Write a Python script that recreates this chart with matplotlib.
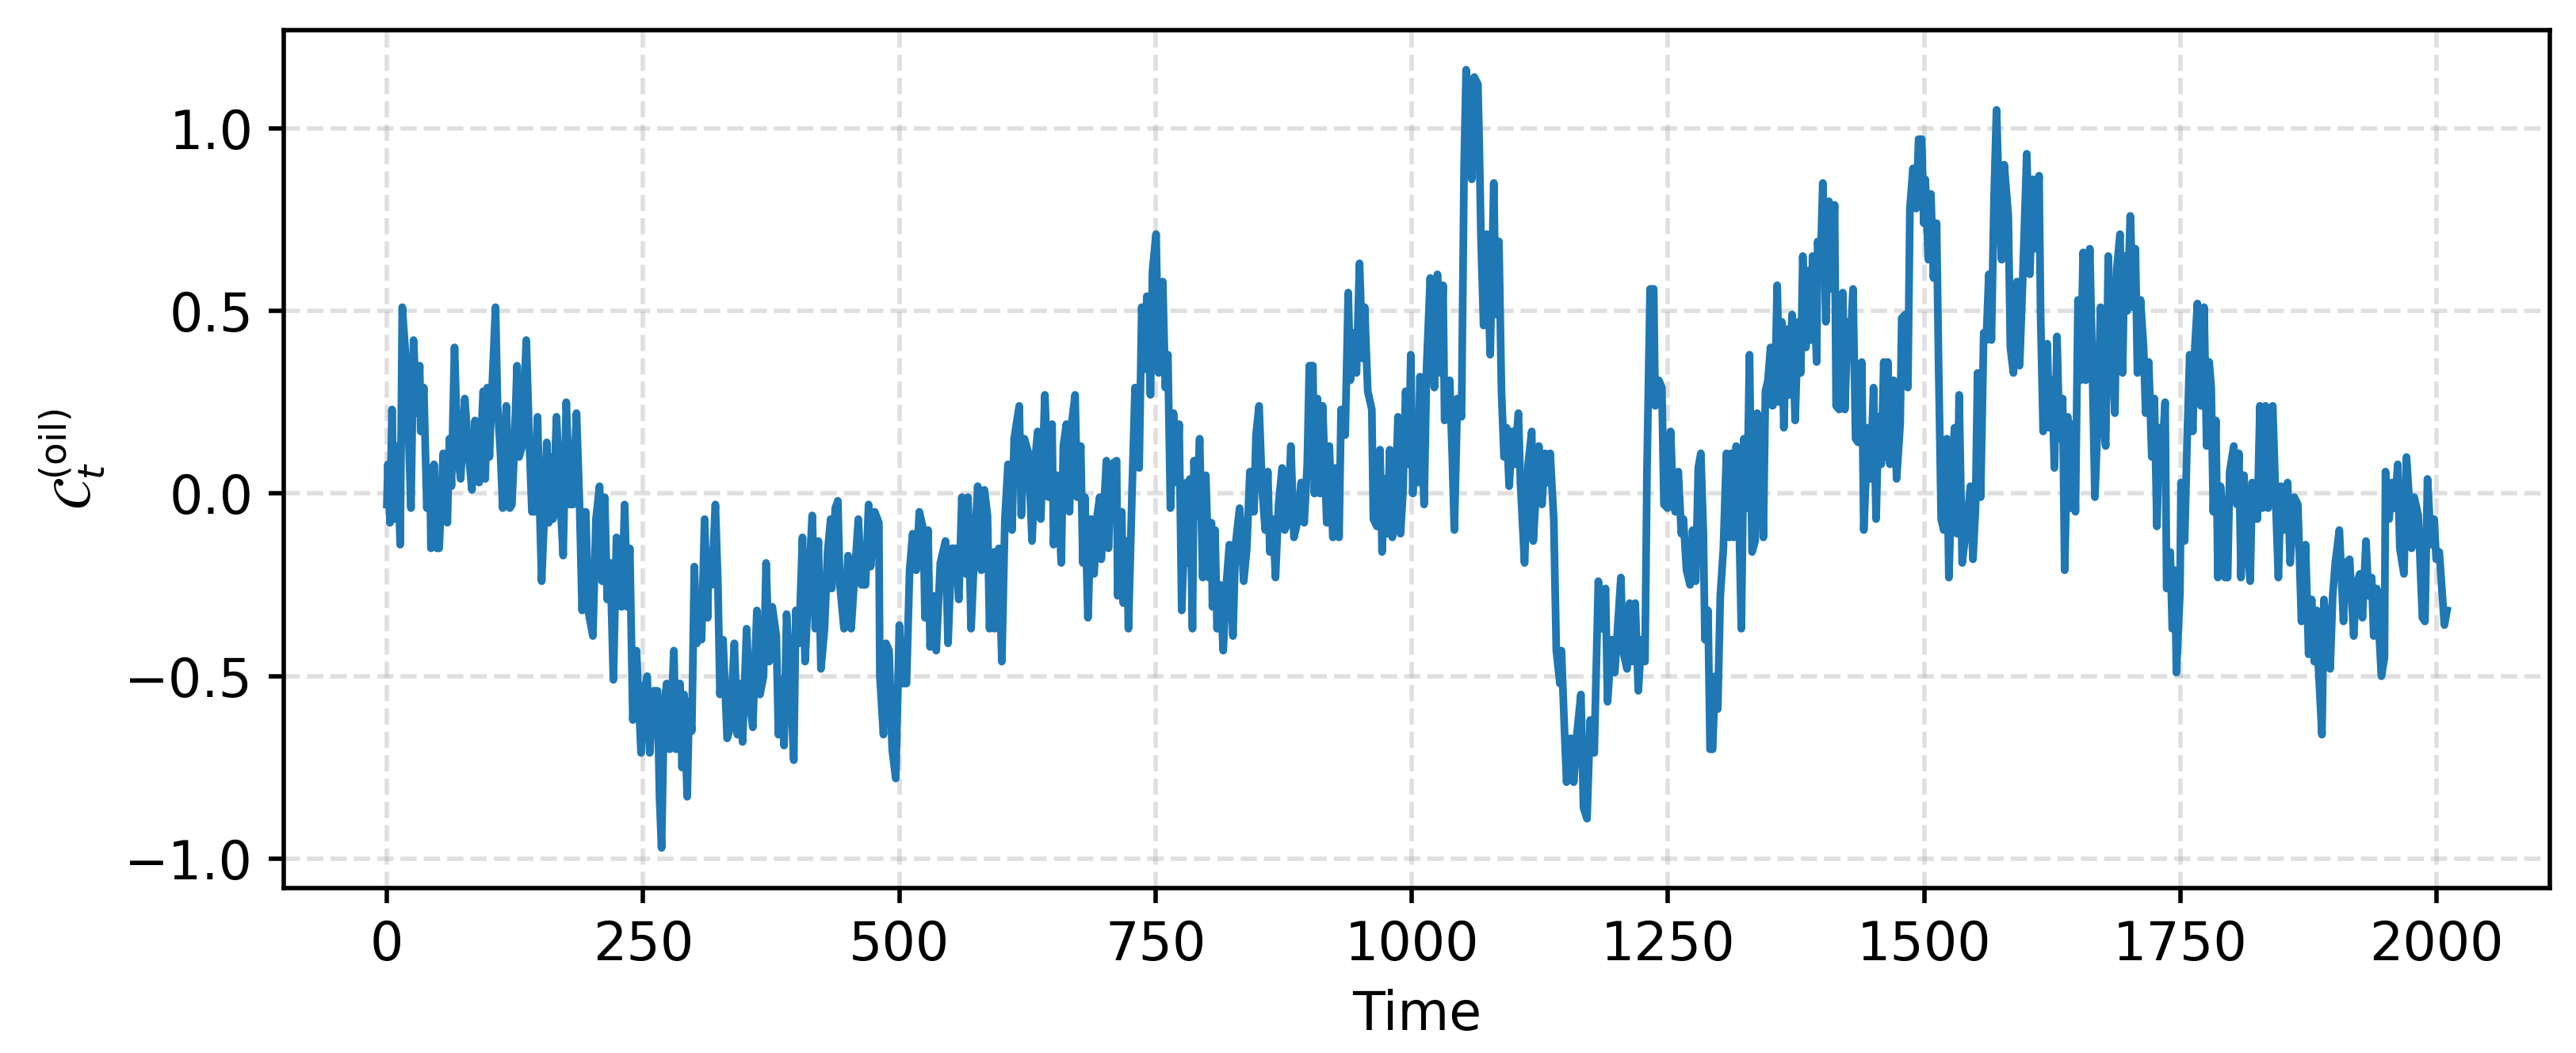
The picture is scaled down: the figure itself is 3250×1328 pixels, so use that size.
import numpy as np
import matplotlib
matplotlib.use("Agg")
import matplotlib.pyplot as plt

# ---- data (time, value), in chunks ----
tA = [0,1,3,5,7,10,13,15,19,23.5,26,29,32,33,36,39,42,43,46,49,51,55,59,61,63,66,69,72,76,80,83,86,90,94,96,98,100,103,106,108,111,113,116.5,120,122,124,127,129,132,136,139,141.5,144,147,149,151,154,156,158,161,162,165.5,169,172,175,178.5,181.5,185,188,190.5,194,197,201,204,207.5,210,212.5,215,218,221,224,227,229,232,234.5,237,240,243.5,248]
vA = [-0.03,0.08,-0.08,0.23,-0.07,0.13,-0.14,0.51,0.35,-0.04,0.42,0.22,0.35,0.17,0.29,-0.04,0.07,-0.15,0.08,-0.15,-0.15,0.11,-0.08,0.15,0.02,0.40,0.11,0.04,0.26,0.10,0.01,0.20,0.03,0.28,0.04,0.29,0.10,0.31,0.51,0.24,0.10,-0.04,0.24,-0.04,-0.03,0.10,0.35,0.10,0.13,0.42,0.14,-0.05,-0.05,0.21,-0.03,-0.24,-0.03,0.14,-0.08,0.10,-0.07,0.21,-0.01,-0.17,0.25,-0.03,-0.03,0.22,-0.03,-0.32,-0.05,-0.33,-0.39,-0.07,0.02,-0.24,-0.01,-0.29,-0.19,-0.51,-0.12,-0.23,-0.31,-0.03,-0.31,-0.15,-0.62,-0.43,-0.71]

tB = [251,254,256.5,260,264,266,268,270.5,273,276,280,282,286,288,290,293,295,297.5,300,302.5,305,307,310,313,314,317,320.5,323,325,328,332,335,339,342,345,347,351,354,357,361,364,367.5,370,373,376,380,382,385,387.5,390,394,397,399,402,405.5,408,411,415,418,421,423.5,427,430,433,434,437.5,440,442,446,450,453,455.5,460,463,467,470,472,476,480,481,484.5,487,490,493,496.5,500,503,507,510,513,516.5,519.5]
vB = [-0.54,-0.50,-0.71,-0.54,-0.54,-0.83,-0.97,-0.58,-0.52,-0.70,-0.43,-0.70,-0.52,-0.75,-0.55,-0.83,-0.57,-0.65,-0.20,-0.41,-0.28,-0.40,-0.07,-0.34,-0.16,-0.25,-0.03,-0.25,-0.55,-0.40,-0.67,-0.64,-0.41,-0.66,-0.52,-0.68,-0.37,-0.57,-0.64,-0.32,-0.55,-0.50,-0.19,-0.46,-0.31,-0.39,-0.66,-0.51,-0.69,-0.33,-0.54,-0.73,-0.32,-0.41,-0.12,-0.46,-0.28,-0.06,-0.37,-0.13,-0.48,-0.37,-0.16,-0.07,-0.26,-0.04,-0.02,-0.25,-0.37,-0.17,-0.37,-0.26,-0.07,-0.25,-0.25,-0.03,-0.20,-0.05,-0.08,-0.50,-0.66,-0.41,-0.43,-0.70,-0.78,-0.36,-0.52,-0.52,-0.21,-0.11,-0.21,-0.05]

tC = [523.5,525,528,530,533,536,540,545,547.5,551,555,558,561,565,567,570,574,576.5,580,583,586,588,592,593,597,600,603,606,610,612,617,619,622,626,629.5,633,635,638,642,645.5,649,650.5,654,658,660,663,666,668.5,671.5,673.5,677,679,681,684,687,690,693,695.5,697,702,704,707,712,713,717,718.5,722,723.5,727,730,734,736.5,739,741.5,745,747,750.5,753,757,759.5,762,764.5]
vC = [-0.10,-0.34,-0.10,-0.42,-0.28,-0.43,-0.19,-0.13,-0.41,-0.15,-0.15,-0.29,-0.01,-0.22,-0.01,-0.37,-0.11,0.02,-0.21,0.01,-0.06,-0.37,-0.16,-0.37,-0.15,-0.46,-0.07,0.08,-0.10,0.15,0.24,-0.06,0.15,0.11,-0.13,0.11,0.17,-0.07,0.27,-0.01,0.19,-0.14,0.05,-0.19,0.13,0.19,-0.05,0.20,0.27,-0.01,0.13,-0.19,-0.01,-0.34,-0.07,-0.22,-0.06,-0.01,-0.18,0.09,-0.15,0.08,0.09,-0.28,-0.05,-0.30,-0.13,-0.37,0.00,0.29,0.07,0.51,0.34,0.54,0.27,0.61,0.71,0.33,0.58,0.29,0.38,-0.04]

tD = [767.5,770.5,773,775.5,780,782,783.5,786,787.5,790,793,796,799,802,804.5,805.5,808,810,813,816,819,822,825.5,828,832,836,839,842,846,848,851,854,857,859.5,861.5,864.5,867,870,873.5,876,879,882,885,889,892,895,898,900,903.5,905,908,910.5,913,917,919.5,923,925.5,929,931,935,938,940,943,946,949,952,954,957,961,962.5,966,969,971,973.5,976,978.5,981,984.5,986.5,989,991.5,994,997,999,1001,1003.5,1006,1008,1012,1014.5,1018,1022]
vD = [0.22,0.03,0.19,-0.32,0.03,-0.19,0.04,-0.37,0.09,-0.06,0.15,-0.23,0.05,-0.23,-0.08,-0.31,-0.10,-0.37,-0.25,-0.43,-0.25,-0.14,-0.39,-0.14,-0.04,-0.24,-0.15,0.06,-0.05,0.16,0.24,0.01,-0.10,0.06,-0.16,-0.07,-0.23,-0.03,0.07,-0.10,-0.08,0.13,-0.12,-0.07,0.03,-0.08,0.08,0.35,0.35,0.00,0.26,0.00,0.24,-0.08,0.13,-0.12,0.07,-0.12,0.23,0.16,0.55,0.31,0.44,0.33,0.63,0.37,0.51,0.28,0.23,-0.07,-0.09,0.12,-0.16,0.04,-0.11,0.12,-0.12,0.03,0.21,-0.11,0.01,0.28,0.08,0.38,0.00,0.21,0.03,0.32,-0.03,0.35,0.59,0.29]

tE = [1025,1028,1030.5,1032,1034.5,1037,1039.5,1041.5,1044.5,1048.5,1051,1053,1056,1058.5,1061,1064.5,1066,1067.5,1070,1073,1076.5,1080,1082,1085,1087.5,1090,1092.5,1095,1098,1100,1104,1106,1110,1113.5,1117,1118.5,1122,1124,1127,1130,1132.5,1135,1138.5,1141,1144.5,1146,1149,1151,1155,1158,1161,1165,1167.5,1171,1174,1178,1182,1185,1189,1191,1195,1198,1201,1204,1206,1210,1212.5,1215,1218,1221,1224,1227.5,1229.5,1232.5,1236,1237.5,1241,1244,1246,1249.5,1252.5,1254.5,1257,1260,1263,1265,1268]
vE = [0.60,0.33,0.57,0.20,0.21,0.31,0.10,-0.10,0.26,0.21,0.89,1.16,1.07,0.86,1.14,1.12,0.93,0.70,0.46,0.71,0.38,0.85,0.49,0.69,0.28,0.10,0.18,0.02,0.17,0.08,0.22,0.03,-0.19,0.08,0.17,-0.13,0.04,0.13,-0.03,0.11,0.03,0.11,-0.07,-0.43,-0.52,-0.43,-0.65,-0.79,-0.67,-0.79,-0.66,-0.55,-0.86,-0.89,-0.62,-0.71,-0.24,-0.37,-0.26,-0.57,-0.40,-0.49,-0.36,-0.23,-0.43,-0.48,-0.30,-0.46,-0.30,-0.54,-0.40,-0.46,0.07,0.56,0.56,0.24,0.31,0.29,-0.03,-0.04,0.17,0.02,-0.05,0.06,-0.11,-0.07,-0.21]

tF = [1271.5,1274,1277,1279.5,1282,1284.5,1286,1289,1291,1293.5,1296,1298.5,1301,1304,1307,1310,1311.5,1314,1316.5,1319,1321.5,1324,1327,1329.5,1332,1335,1337,1340,1343,1345,1347.5,1350,1352,1354,1356.5,1359,1361,1363,1365.5,1368,1371,1374,1377,1379.5,1381.5,1384.5,1386.5,1389.5,1391,1395,1396,1398.5,1401,1404,1407,1409.5,1412.5,1414,1417,1420.5,1422.5,1425.5,1427.5,1430.5,1433,1435.5,1439,1441,1445,1447.5,1450.5,1453,1455.5,1458,1460.5,1462.5,1464.5,1466.5,1470,1473,1476.5,1478,1481.5,1484,1486,1489,1492,1494.5,1497.5,1499.5,1501,1504,1506.5,1509,1512,1514,1516.5,1519,1522,1524,1527,1529.5,1532,1534,1537]
vF = [-0.25,-0.10,-0.24,0.07,0.11,-0.11,-0.40,-0.32,-0.70,-0.70,-0.50,-0.59,-0.28,-0.15,0.11,-0.12,0.11,-0.12,0.13,-0.03,-0.37,0.15,-0.04,0.38,-0.16,-0.13,0.22,0.19,-0.12,0.28,0.31,0.40,0.24,0.25,0.57,0.25,0.47,0.18,0.45,0.27,0.49,0.20,0.47,0.33,0.65,0.40,0.61,0.42,0.65,0.36,0.69,0.60,0.85,0.47,0.80,0.56,0.79,0.24,0.23,0.55,0.23,0.47,0.38,0.56,0.15,0.14,0.36,-0.10,0.18,0.04,0.29,-0.07,0.21,0.08,0.36,0.10,0.36,0.08,0.31,0.04,0.19,0.48,0.49,0.29,0.78,0.89,0.78,0.97,0.97,0.74,0.86,0.64,0.82,0.59,0.74,0.35,-0.07,-0.10,0.15,-0.23,0.04,0.18,-0.11,0.27,-0.19]

tG = [1542,1545,1547.5,1550,1552,1555,1558,1560.5,1563,1565.5,1568,1570.5,1573.5,1575.5,1578,1582,1584,1587,1590.5,1593,1596,1600,1603,1606,1607.5,1612,1613.5,1616,1620,1622,1624.5,1627,1629.5,1632,1635,1637,1640,1643,1645,1647.5,1650,1652.5,1655,1657.5,1661.5,1664,1666.5,1669,1672,1674.5,1677,1679.5,1683,1686,1688,1691,1693.5,1695.5,1698,1701,1704,1706,1708,1711,1714,1716,1719,1722,1724.5,1727,1729.5,1732,1735,1736.5,1740,1742,1744.5,1746,1749.5,1750.5,1754,1756.5,1759,1762,1764,1766.5,1770,1773,1775.5,1778,1780,1782,1784.5,1786.5]
vG = [-0.07,0.02,-0.18,-0.04,0.33,-0.01,0.44,0.42,0.60,0.42,0.80,1.05,0.76,0.64,0.90,0.76,0.40,0.33,0.58,0.35,0.58,0.93,0.60,0.86,0.67,0.87,0.49,0.17,0.41,0.18,0.31,0.07,0.43,0.15,0.26,-0.21,0.21,-0.04,0.19,-0.05,0.53,0.31,0.66,0.31,0.67,0.35,-0.01,0.18,0.51,0.20,0.13,0.65,0.40,0.22,0.62,0.71,0.33,0.65,0.50,0.76,0.51,0.67,0.33,0.53,0.40,0.22,0.36,0.10,0.26,-0.09,0.18,0.10,0.25,-0.26,-0.16,-0.37,-0.21,-0.49,-0.27,0.03,-0.13,0.15,0.38,0.17,0.40,0.52,0.24,0.51,0.13,0.36,0.29,-0.05,0.20,-0.23]

tH = [1789,1791,1793.5,1796,1798,1802,1805,1807,1809,1812,1814,1818,1820,1823,1825,1827.5,1830,1833,1835.5,1840,1843,1845.5,1848,1851,1854.5,1857,1861,1864.5,1868,1872,1875,1878,1880.5,1883,1884.5,1888,1890,1893.5,1896,1898.5,1901,1905,1909,1911,1915,1919,1921.5,1925,1927.5,1931,1933.5,1936.5,1938.5,1941.5,1946,1949,1950,1953.5,1956.5,1959,1962,1964,1968,1970.5,1973,1975.5,1978,1982,1986,1988.5,1991,1994.5,1997.5,1999.5,2002.5,2005,2007.5,2010]
vH = [0.02,-0.04,-0.23,-0.23,0.06,0.13,-0.03,0.11,-0.23,0.05,-0.10,-0.24,0.03,0.02,-0.07,0.24,-0.04,0.24,-0.04,0.24,-0.03,-0.23,0.02,-0.10,0.03,-0.19,-0.01,-0.03,-0.35,-0.14,-0.44,-0.29,-0.46,-0.32,-0.47,-0.66,-0.29,-0.41,-0.48,-0.28,-0.19,-0.10,-0.35,-0.19,-0.18,-0.39,-0.25,-0.22,-0.34,-0.13,-0.28,-0.23,-0.39,-0.26,-0.50,-0.45,0.06,-0.07,0.03,-0.04,0.08,-0.15,-0.22,0.10,-0.01,-0.15,-0.01,-0.06,-0.34,-0.35,0.04,-0.14,-0.07,-0.18,-0.16,-0.26,-0.36,-0.32]

x_ticks = [0, 250, 500, 750, 1000, 1250, 1500, 1750, 2000]
y_ticks = [-1.0, -0.5, 0.0, 0.5, 1.0]
x_label = "Time"
y_label = r"$\mathcal{C}_t^{(\mathrm{oil})}$"

t_chunks = [tA, tB, tC, tD, tE, tF, tG, tH]
v_chunks = [vA, vB, vC, vD, vE, vF, vG, vH]
for tc, vc in zip(t_chunks, v_chunks):
    assert len(tc) == len(vc), (len(tc), len(vc))
time = np.concatenate([np.asarray(c, float) for c in t_chunks])
value = np.concatenate([np.asarray(c, float) for c in v_chunks])

plt.rcParams['font.size'] = 12
DPI = 400
fig = plt.figure(figsize=(3250 / DPI, 1328 / DPI), dpi=DPI)
ax = fig.add_axes([0.1102, 0.1566, 0.8797, 0.8150])
ax.plot(time, value, color='#1f77b4', linewidth=1.75)
ax.set_xlim(-100.5, 2110.5)
ax.set_ylim(-1.080, 1.269)
ax.set_xticks(x_ticks)
ax.set_yticks(y_ticks)
ax.grid(True, linestyle='--', color='#b0b0b0', alpha=0.4, linewidth=1.0)
ax.set_xlabel(x_label)
ax.set_ylabel(y_label)
for s in ax.spines.values():
    s.set_linewidth(1.0)
ax.tick_params(width=1.0, length=3.5)
fig.savefig('out.png', dpi=DPI)
